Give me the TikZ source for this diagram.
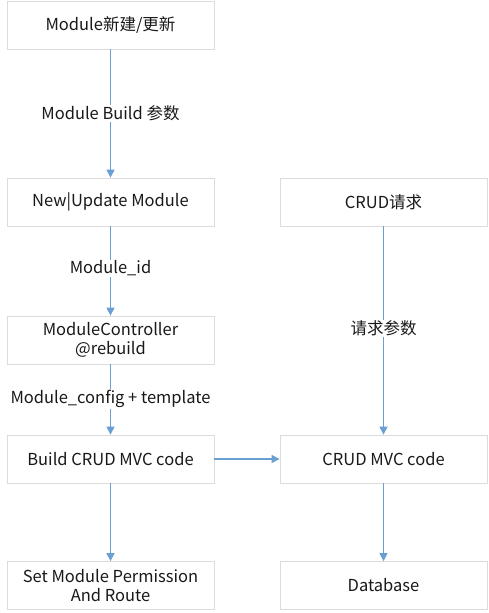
\documentclass[tikz,border=0pt]{standalone}
\usepackage{fontspec}
\setmainfont{Noto Sans CJK SC}
\usetikzlibrary{arrows.meta}
\definecolor{boxline}{HTML}{DCDCDC}
\definecolor{arr}{HTML}{6A9FD4}
\tikzset{
  box/.style={draw=boxline, line width=0.8pt, minimum width=207pt, minimum height=48pt, inner sep=0pt, align=center, font=\fontsize{16.5}{19}\selectfont, text=black!90},
  conn/.style={draw=arr, line width=1.2pt, -{Triangle[length=8pt,width=8pt]}},
  lbl/.style={fill=white, inner sep=1pt, font=\fontsize{16.5}{19}\selectfont, text=black!90}
}
\begin{document}
\begin{tikzpicture}[x=1pt,y=-1pt]
\useasboundingbox[fill=white] (0,0) rectangle (489,613);
\node[box] (a) at (110.5,25) {Module新建/更新};
\node[box] (b) at (110.5,202) {New|Update Module};
\node[box] (c) at (110.5,340) {ModuleController\\@rebuild};
\node[box] (d) at (110.5,459) {Build CRUD MVC code};
\node[box] (e) at (110.5,585.5) {Set Module Permission\\And Route};
\node[box] (f) at (383.5,202) {CRUD请求};
\node[box] (g) at (383.5,459) {CRUD MVC code};
\node[box] (h) at (383.5,585.5) {Database};
\draw[conn] (a) -- node[lbl] {Module Build 参数} (b);
\draw[conn] (b) -- node[lbl, pos=0.47] {Module\_id} (c);
\draw[conn] (c) -- node[lbl, pos=0.49] {Module\_config + template} (d);
\draw[conn] (d) -- (e);
\draw[conn] (f) -- node[lbl, pos=0.49] {请求参数} (g);
\draw[conn] (g) -- (h);
\draw[conn] (d) -- (g);
\end{tikzpicture}
\end{document}
